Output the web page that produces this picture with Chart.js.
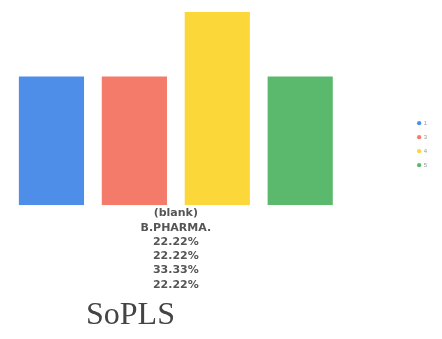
<!DOCTYPE html>
<html>
<head>
<meta charset="utf-8">
<script src="https://cdn.jsdelivr.net/npm/chart.js@4"></script>
<style>
  body { margin: 0; background: #fff; }
  #wrap { position: relative; width: 442px; height: 339px; }
  #title {
    position: absolute; left: 86px; top: 295px;
    font-family: "Liberation Serif", serif; font-size: 32px; color: #444;
  }
</style>
</head>
<body>
<div id="wrap">
  <canvas id="chart1" width="442" height="339"></canvas>
  <div id="title">SoPLS</div>
</div>
<script>
// data
const category = "(blank)";
const course = "B.PHARMA.";
const seriesNames = ["1", "3", "4", "5"];
const seriesValues = [22.22, 22.22, 33.33, 22.22];
const seriesColors = ["#4f8ee8", "#f47a6a", "#fcd73a", "#5bb96d"];

// the x label is several lines: blank, course, then each percentage
const xLabel = [category, course].concat(seriesValues.map(v => v.toFixed(2) + "%"));

const datasets = seriesNames.map((name, i) => ({
    label: name,
    data: [seriesValues[i]],
    backgroundColor: seriesColors[i],
    barPercentage: 0.786,
    categoryPercentage: 1
}));

const ctx = document.getElementById("chart1").getContext("2d");
new Chart(ctx, {
    type: "bar",
    data: { labels: [xLabel], datasets: datasets },
    options: {
        responsive: false,
        animation: false,
        layout: { padding: { top: 12, left: 10, right: 5, bottom: 46 } },
        plugins: {
            tooltip: { enabled: false },
            legend: {
                position: "right",
                align: "start",
                // empty title just pushes the items down to mid height
                title: { display: true, text: " ", font: { size: 6 }, padding: { top: 0, bottom: 93 } },
                labels: {
                    usePointStyle: true,
                    pointStyle: "circle",
                    boxWidth: 3,
                    boxHeight: 3,
                    padding: 8,
                    color: "#999",
                    font: { size: 6 }
                }
            }
        },
        scales: {
            x: {
                grid: { display: false, drawTicks: false },
                border: { display: false },
                ticks: {
                    padding: 1,
                    color: "#555",
                    font: { family: "DejaVu Sans", size: 11, weight: "bold", lineHeight: 1.3 }
                }
            },
            y: {
                position: "right",
                min: 0,
                max: Math.max(...seriesValues),
                grid: { display: false, drawTicks: false },
                border: { display: false },
                ticks: { display: false },
                afterFit: scale => { scale.width = 68; }
            }
        }
    }
});
</script>
</body>
</html>
